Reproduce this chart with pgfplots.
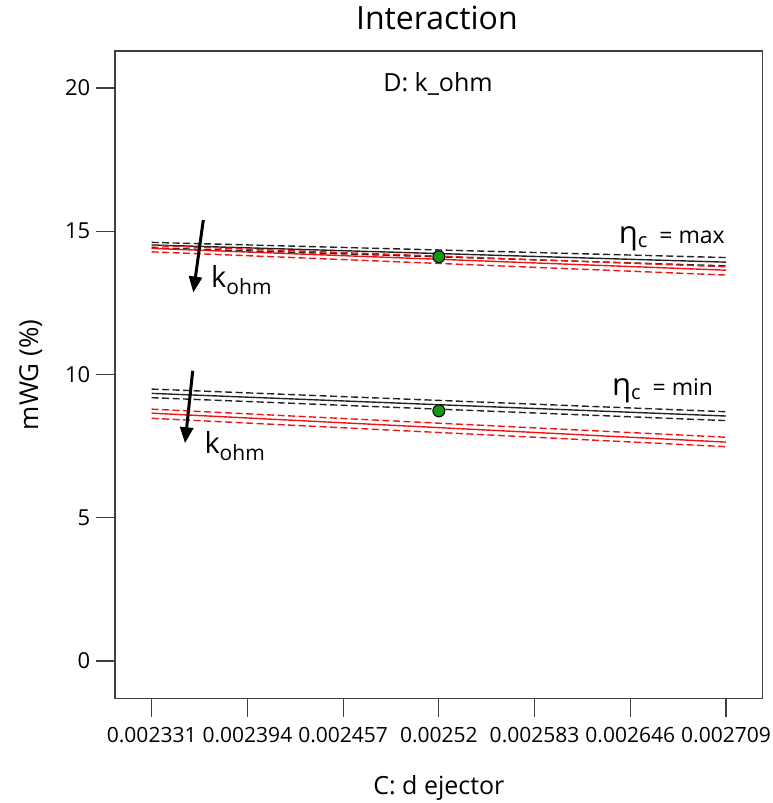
\documentclass[border=0pt]{standalone}
\usepackage{fontspec}
\setmainfont{Open Sans}
\usepackage{pgfplots}
\usepackage{pgfplotstable}
\pgfplotsset{compat=1.18}
\usetikzlibrary{arrows.meta}

\definecolor{framegray}{RGB}{64,64,64}
\definecolor{lineblack}{RGB}{35,35,35}
\definecolor{linered}{RGB}{240,20,20}
\definecolor{ptgreen}{RGB}{20,150,20}

\newcommand\fs[1]{\fontsize{#1}{#1}\selectfont}

% eta_c = max: low k_ohm (black) and high k_ohm (red), fit with upper/lower band
\pgfplotstableread{
x        bu     bm     bl     ru     rm     rl
0.002331 14.61  14.52  14.42  14.50  14.40  14.28
0.002709 14.08  13.92  13.79  13.76  13.64  13.47
}\etamax

% eta_c = min
\pgfplotstableread{
x        bu     bm     bl     ru     rm     rl
0.002331 9.49   9.34   9.19   8.79   8.65   8.47
0.002709 8.70   8.55   8.39   7.81   7.64   7.48
}\etamin

% design points
\pgfplotstableread{
x       y
0.00252 14.11
0.00252 8.73
}\design

\begin{document}
\begin{tikzpicture}
\useasboundingbox (-115pt,-104.3pt) rectangle (657pt,698.7pt);
\begin{axis}[
  at={(0pt,0pt)}, anchor=south west, scale only axis,
  width=647.7pt, height=647.7pt,
  xmin=0.00230684, xmax=0.00273316,
  ymin=-1.316, ymax=21.29,
  xtick={0.002331,0.002394,0.002457,0.00252,0.002583,0.002646,0.002709},
  xticklabels={0.002331,0.002394,0.002457,0.00252,0.002583,0.002646,0.002709},
  scaled x ticks=false,
  ytick={0,5,10,15,20}, yticklabels={0,5,10,15,20},
  tick align=outside, xtick pos=bottom, ytick pos=left,
  major tick length=18.5pt,
  tick style={framegray, line width=1.2pt},
  axis line style={framegray, line width=1.4pt},
  x tick label style={font=\fs{21}, inner sep=0pt, anchor=north, yshift=-10pt},
  y tick label style={font=\fs{22}, inner sep=0pt, anchor=east, xshift=-6pt},
  title={Interaction},
  title style={font=\fs{32}, at={(axis description cs:0.497,1)}, anchor=base, yshift=15pt, inner sep=0pt},
  xlabel={C: d ejector},
  xlabel style={font=\fs{25}, at={(axis description cs:0.5,0)}, anchor=base, yshift=-95.3pt, inner sep=0pt},
  ylabel={mWG (\%)},
  ylabel style={font=\fs{26}, at={(axis description cs:-0.13,0.5)}, anchor=center},
  clip=false,
  every axis plot/.append style={line width=1.4pt},
  band/.style={dash pattern=on 7pt off 3.5pt},
]
% eta_c = max
\addplot[lineblack, band] table[x=x,y=bu]{\etamax};
\addplot[lineblack]       table[x=x,y=bm]{\etamax};
\addplot[lineblack, band] table[x=x,y=bl]{\etamax};
\addplot[linered, band]   table[x=x,y=ru]{\etamax};
\addplot[linered]         table[x=x,y=rm]{\etamax};
\addplot[linered, band]   table[x=x,y=rl]{\etamax};
% eta_c = min
\addplot[lineblack, band] table[x=x,y=bu]{\etamin};
\addplot[lineblack]       table[x=x,y=bm]{\etamin};
\addplot[lineblack, band] table[x=x,y=bl]{\etamin};
\addplot[linered, band]   table[x=x,y=ru]{\etamin};
\addplot[linered]         table[x=x,y=rm]{\etamin};
\addplot[linered, band]   table[x=x,y=rl]{\etamin};
% design points
\addplot[only marks, mark=*, mark size=6pt,
  mark options={fill=ptgreen, draw=black, line width=1pt}] table[x=x,y=y]{\design};

% direction of increasing k_ohm
\draw[black, line width=3pt, -{Triangle[length=16pt,width=13pt]}]
  (axis cs:0.00236496,15.39) -- (axis cs:0.00235838,12.86);
\draw[black, line width=3pt, -{Triangle[length=16pt,width=13pt]}]
  (axis cs:0.00235799,10.13) -- (axis cs:0.00235292,7.60);
\node[anchor=base west, inner sep=0pt, font=\fs{29}] at (axis cs:0.00237003,13.04)
  {k\raisebox{-7pt}{\fs{21}ohm}};
\node[anchor=base west, inner sep=0pt, font=\fs{29}] at (axis cs:0.00236562,7.25)
  {k\raisebox{-7pt}{\fs{21}ohm}};

\node[anchor=base east, inner sep=0pt] at (axis cs:0.00270834,14.58)
  {\fs{31}η\raisebox{-4pt}{\fs{20}c}\fs{23}\ \ = max};
\node[anchor=base east, inner sep=0pt] at (axis cs:0.00270065,9.28)
  {\fs{31}η\raisebox{-4pt}{\fs{20}c}\fs{23}\ \ = min};

\node[anchor=base, inner sep=0pt, font=\fs{25}] at (axis description cs:0.4987,0.9372) {D: k\_ohm};
\end{axis}
\end{tikzpicture}
\end{document}
